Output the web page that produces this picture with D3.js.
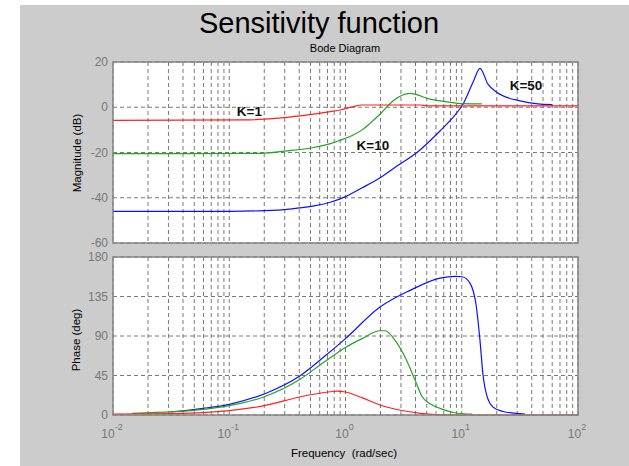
<!DOCTYPE html>
<html>
<head>
<meta charset="utf-8">
<script src="https://cdn.jsdelivr.net/npm/d3@7"></script>
<style>
body { margin: 0; background: #ffffff; }
text { font-family: "Liberation Sans", Arial, sans-serif; }
</style>
</head>
<body>
<div id="chart"></div>
<script>
// values: [frequency (rad/sec), value]
var magTicks = [20, 0, -20, -40, -60];
var phaseTicks = [180, 135, 90, 45, 0];
var freqDecades = [-2, -1, 0, 1, 2];

var magK1 = [[0.01,-5.8],[0.13,-5.6],[0.3,-4.6],[0.47,-3.4],[0.74,-1.9],[0.9,-1.2],[1.15,0.2],[1.39,1.0],[4.4,1.0],[5,0.6],[100,0.6]];
var magK10 = [[0.01,-20.5],[0.19,-20.4],[0.3,-19.4],[0.52,-17.9],[0.74,-16.1],[0.9,-14.6],[1.15,-12.4],[1.39,-10.0],[1.65,-6.8],[1.98,-3.1],[2.56,2.8],[3.59,6.1],[5.33,3.6],[7.47,2.4],[10.25,1.6],[14.9,1.5]];
var magK50 = [[0.01,-46],[0.1,-46],[0.2,-45.7],[0.33,-45],[0.4,-44.5],[0.55,-43.5],[0.74,-42],[1.0,-39.5],[1.39,-35.6],[2.0,-31],[2.77,-26],[4.12,-20],[6.5,-10.5],[8.4,-4.5],[10.25,1.3],[12.5,11],[14.35,17.2],[16.8,10.2],[20.1,6.5],[31.7,2.8],[45,1.5],[60,1.2]];

var phaseK1 = [[0.01,1],[0.033,1.5],[0.06,2.6],[0.1,4.9],[0.2,10.6],[0.41,20.8],[0.74,26.5],[0.85,27.3],[1.0,26.2],[1.4,19.5],[1.98,11.4],[2.9,5.7],[4.4,1.9],[6,0.5],[10,0],[100,0]];
var phaseK10 = [[0.0146,1.9],[0.033,3.8],[0.06,6.5],[0.1,10.6],[0.2,20.8],[0.41,41],[0.65,60],[1.0,77],[1.39,87],[1.98,96],[2.19,96],[2.67,85],[3.25,66],[3.96,40],[4.55,21],[5.3,13],[6.5,7.6],[8.7,2.6],[12.3,1]];
var phaseK50 = [[0.031,3.4],[0.06,7.6],[0.1,12.2],[0.2,24],[0.41,45],[0.65,66],[1.0,87],[1.98,123],[3.59,142],[6.5,156],[8.8,158],[10.1,157.5],[11.8,150],[13.3,125],[14.35,85],[15.2,47],[16.6,20],[18.6,9],[22.6,4],[35,1]];

var gainNames = ["K=1", "K=10", "K=50"];

var svg = d3.select("#chart")
            .append("svg")
            .attr("width", 629)
            .attr("height", 466);

svg.append("rect")
   .attr("x", 20)
   .attr("y", 5)
   .attr("width", 609)
   .attr("height", 461)
   .attr("fill", "#cccccc");

var x = d3.scaleLog().domain([0.01, 100]).range([113, 578]);
var yMag = d3.scaleLinear().domain([-60, 20]).range([243, 62]);
var yPhase = d3.scaleLinear().domain([0, 180]).range([415, 257]);

var colors = ["#ff2020", "#1fa51f", "#1010ff"];

function drawPanel(y, ticks) {
  var g = svg.append("g");
  var x0 = x.range()[0], x1 = x.range()[1];
  var yr = y.range();
  g.append("rect")
   .attr("x", x0).attr("y", yr[1])
   .attr("width", x1 - x0).attr("height", yr[0] - yr[1])
   .attr("fill", "#ffffff");

  // vertical grid at every decade and minor tick
  g.selectAll("line.vgrid")
   .data(x.ticks())
   .enter()
   .append("line")
   .attr("x1", function(d) { return x(d); })
   .attr("x2", function(d) { return x(d); })
   .attr("y1", yr[1])
   .attr("y2", yr[0])
   .attr("stroke", "#7a7a7a")
   .attr("stroke-width", 1)
   .attr("stroke-dasharray", "4,3");

  g.selectAll("line.hgrid")
   .data(ticks)
   .enter()
   .append("line")
   .attr("x1", x0)
   .attr("x2", x1)
   .attr("y1", function(d) { return y(d); })
   .attr("y2", function(d) { return y(d); })
   .attr("stroke", "#7a7a7a")
   .attr("stroke-width", 1)
   .attr("stroke-dasharray", "4,3");

  g.selectAll("text.ytick")
   .data(ticks)
   .enter()
   .append("text")
   .text(function(d) { return d; })
   .attr("x", x0 - 5)
   .attr("y", function(d) { return y(d) + 4; })
   .attr("text-anchor", "end")
   .attr("font-size", "12px")
   .attr("fill", "#777777");

  return g;
}

function drawFrame(y) {
  var x0 = x.range()[0], x1 = x.range()[1];
  var yr = y.range();
  svg.append("rect")
     .attr("x", x0).attr("y", yr[1])
     .attr("width", x1 - x0).attr("height", yr[0] - yr[1])
     .attr("fill", "none")
     .attr("stroke", "#858585")
     .attr("stroke-width", 1.5);
}

var magPanel = drawPanel(yMag, magTicks);
var phasePanel = drawPanel(yPhase, phaseTicks);

var magLine = d3.line()
  .x(function(d) { return x(d[0]); })
  .y(function(d) { return yMag(d[1]); })
  .curve(d3.curveMonotoneX);

var phaseLine = d3.line()
  .x(function(d) { return x(d[0]); })
  .y(function(d) { return yPhase(d[1]); })
  .curve(d3.curveMonotoneX);

// draw blue first, red on top like the picture
[magK50, magK10, magK1].forEach(function(s, i) {
  magPanel.append("path")
     .attr("d", magLine(s))
     .attr("fill", "none")
     .attr("stroke", colors[2 - i])
     .attr("stroke-width", 1.2);
});

[phaseK50, phaseK10, phaseK1].forEach(function(s, i) {
  phasePanel.append("path")
     .attr("d", phaseLine(s))
     .attr("fill", "none")
     .attr("stroke", colors[2 - i])
     .attr("stroke-width", 1.2);
});

drawFrame(yMag);
drawFrame(yPhase);

// gain labels placed in data coordinates
var labelSpots = [[0.149, -1.8], [1.72, -16.9], [35.7, 9.8]];
svg.selectAll("text.gain")
   .data(gainNames)
   .enter()
   .append("text")
   .text(function(d) { return d; })
   .attr("x", function(d, i) { return x(labelSpots[i][0]); })
   .attr("y", function(d, i) { return yMag(labelSpots[i][1]) + 5; })
   .attr("text-anchor", "middle")
   .attr("font-size", "13.5px")
   .attr("font-weight", "bold")
   .attr("fill", "#111111");

// x tick labels 10^k
var xl = svg.selectAll("text.xtick")
   .data(freqDecades)
   .enter()
   .append("text")
   .attr("x", function(d) { return x(Math.pow(10, d)) - 1; })
   .attr("y", 438)
   .attr("text-anchor", "middle")
   .attr("font-size", "12px")
   .attr("fill", "#777777");
xl.append("tspan").text("10");
xl.append("tspan")
  .text(function(d) { return d; })
  .attr("dy", -8)
  .attr("font-size", "9px");

svg.append("text")
   .text("Sensitivity function")
   .attr("x", 319)
   .attr("y", 33)
   .attr("text-anchor", "middle")
   .attr("font-size", "29px")
   .attr("fill", "#000000");

svg.append("text")
   .text("Bode Diagram")
   .attr("x", 345)
   .attr("y", 52)
   .attr("text-anchor", "middle")
   .attr("font-size", "11px")
   .attr("fill", "#000000");

svg.append("text")
   .text("Magnitude (dB)")
   .attr("transform", "translate(81,153) rotate(-90)")
   .attr("text-anchor", "middle")
   .attr("font-size", "11.5px");

svg.append("text")
   .text("Phase (deg)")
   .attr("transform", "translate(80,340) rotate(-90)")
   .attr("text-anchor", "middle")
   .attr("font-size", "11.5px");

svg.append("text")
   .text("Frequency  (rad/sec)")
   .attr("x", 344)
   .attr("y", 457)
   .attr("text-anchor", "middle")
   .attr("font-size", "11.5px")
   .attr("xml:space", "preserve");
</script>
</body>
</html>
